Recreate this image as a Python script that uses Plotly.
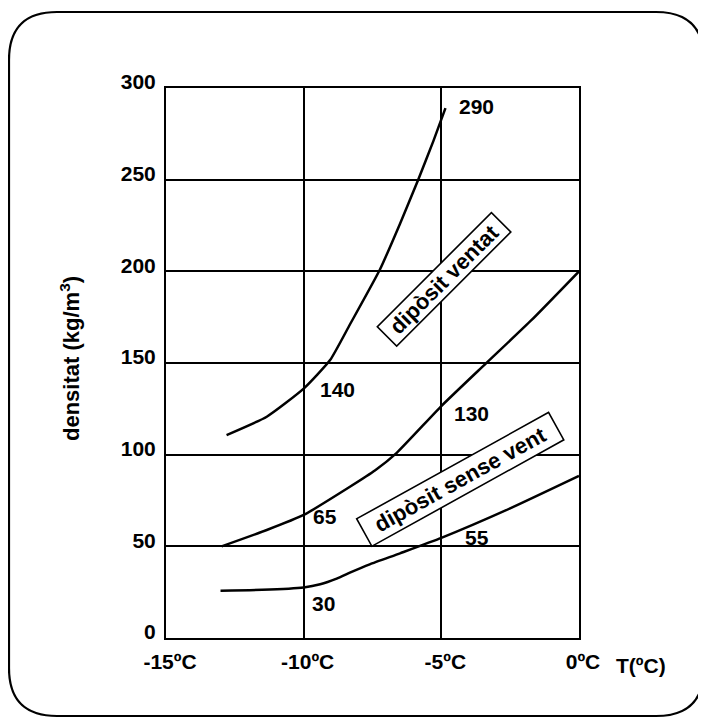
import plotly.graph_objects as go

# ---- data ----
temp_ventat = [-12.8, -11.34, -10.0, -9.04, -8.32, -7.23, -6.5, -5.84, -5.29, -4.85]
dens_ventat = [110.7, 120.7, 136.0, 151.6, 171.0, 201.0, 226.0, 250.0, 271.0, 289.0]

temp_mig = [-12.98, -11.34, -10.0, -8.32, -7.4, -6.62, -5.0, -3.35, -1.72, 0.0]
dens_mig = [50.0, 58.9, 67.1, 82.5, 91.5, 101.0, 126.5, 150.2, 173.5, 200.0]

temp_sense = [-13.02, -11.5, -10.0, -9.4, -8.8, -8.3, -7.6, -6.5, -5.0, -2.5, 0.0]
dens_sense = [25.8, 26.3, 27.6, 29.3, 32.4, 35.8, 40.2, 46.2, 54.6, 70.7, 88.4]

x_ticks = [-15, -10, -5, 0]
x_tick_labels = ["-15ºC", "-10ºC", "-5ºC", "0ºC"]
y_ticks = [0, 50, 100, 150, 200, 250, 300]

value_labels = ["290", "140", "200", "130", "65", "90", "55", "30"]
value_label_x = [-4.43, -9.48, 0.22, -4.62, -9.74, 0.33, -4.21, -9.78]
value_label_y = [290.0, 135.5, 204.3, 122.5, 66.2, 91.0, 54.8, 18.9]

box_labels = ["dipòsit ventat", "dipòsit sense vent"]
box_x = [-4.90, -4.32]
box_y = [195.3, 86.2]

# ---- layout geometry (page pixels; the page body has an 8px margin) ----
OFF = 8
W, H = 706 - OFF, 718 - OFF
PLOT_L, PLOT_T, PLOT_R, PLOT_B = 166, 88, 579, 638  # page pixels
L_M, T_M = PLOT_L - OFF, PLOT_T - OFF
PW, PH = PLOT_R - PLOT_L, PLOT_B - PLOT_T
R_M, B_M = W - L_M - PW, H - T_M - PH


def px2paper(px, py):
    return (px - PLOT_L) / PW, (PLOT_B - py) / PH


FONT = "Liberation Sans, Arial, sans-serif"

fig = go.Figure()
for xs, ys in [(temp_ventat, dens_ventat), (temp_mig, dens_mig), (temp_sense, dens_sense)]:
    fig.add_trace(go.Scatter(x=xs, y=ys, mode="lines",
                             line=dict(color="black", width=2.5, shape="spline", smoothing=0.5),
                             showlegend=False, hoverinfo="skip"))

annotations = []
for t, x, y in zip(value_labels, value_label_x, value_label_y):
    annotations.append(dict(x=x, y=y, xref="x", yref="y", text=t, showarrow=False,
                            xanchor="left", yanchor="middle",
                            font=dict(family=FONT, size=21, color="black", weight="bold")))

box_w = [160, 218]
box_h = [26, 30]
box_angle = [-45, -29]
for t, x, y, w, h, a in zip(box_labels, box_x, box_y, box_w, box_h, box_angle):
    annotations.append(dict(x=x, y=y, xref="x", yref="y", text=t, showarrow=False,
                            xanchor="center", yanchor="middle", textangle=a,
                            width=w, height=h, align="center", valign="middle",
                            bgcolor="white", bordercolor="black", borderwidth=1.6, borderpad=0,
                            font=dict(family=FONT, size=22, color="black", weight="bold")))

tx, ty = px2paper(614, 665)
annotations.append(dict(x=tx, y=ty, xref="paper", yref="paper", text="T(ºC)", showarrow=False,
                        xanchor="left", yanchor="middle",
                        font=dict(family=FONT, size=21, color="black", weight="bold")))
yx, yy = px2paper(70, 359)
annotations.append(dict(x=yx, y=yy, xref="paper", yref="paper", text="densitat (kg/m<sup>3</sup>)",
                        showarrow=False, xanchor="center", yanchor="middle", textangle=-90,
                        font=dict(family=FONT, size=22, color="black", weight="bold")))

# rounded outer border (page pixels)
Lb, Tb, Rb, Bb, r = 9, 12, 704, 716, 48


def P(px, py):
    a, b = px2paper(px, py)
    return f"{a:.5f},{b:.5f}"


path = (f"M {P(Lb + r, Tb)} L {P(Rb - r, Tb)} Q {P(Rb, Tb)} {P(Rb, Tb + r)} "
        f"L {P(Rb, Bb - r)} Q {P(Rb, Bb)} {P(Rb - r, Bb)} "
        f"L {P(Lb + r, Bb)} Q {P(Lb, Bb)} {P(Lb, Bb - r)} "
        f"L {P(Lb, Tb + r)} Q {P(Lb, Tb)} {P(Lb + r, Tb)} Z")

fig.update_layout(
    width=W, height=H,
    margin=dict(l=L_M, r=R_M, t=T_M, b=B_M, pad=0),
    paper_bgcolor="white", plot_bgcolor="white",
    annotations=annotations,
    shapes=[dict(type="path", path=path, xref="paper", yref="paper",
                 line=dict(color="black", width=2.2), layer="above")],
    xaxis=dict(range=[-15, 0], tickvals=x_ticks, ticktext=x_tick_labels,
               showgrid=True, gridcolor="black", gridwidth=1.8,
               showline=True, linecolor="black", linewidth=2, mirror=True,
               zeroline=False, ticks="", ticklabelstandoff=4, ticklabelshift=4,
               tickfont=dict(family=FONT, size=21, color="black", weight="bold")),
    yaxis=dict(range=[0, 300], tickvals=y_ticks,
               showgrid=True, gridcolor="black", gridwidth=1.8,
               showline=True, linecolor="black", linewidth=2, mirror=True,
               zeroline=False, ticks="", ticklabelstandoff=4, ticklabelshift=-6,
               tickfont=dict(family=FONT, size=21, color="black", weight="bold")),
)

fig.write_html("out.html")
